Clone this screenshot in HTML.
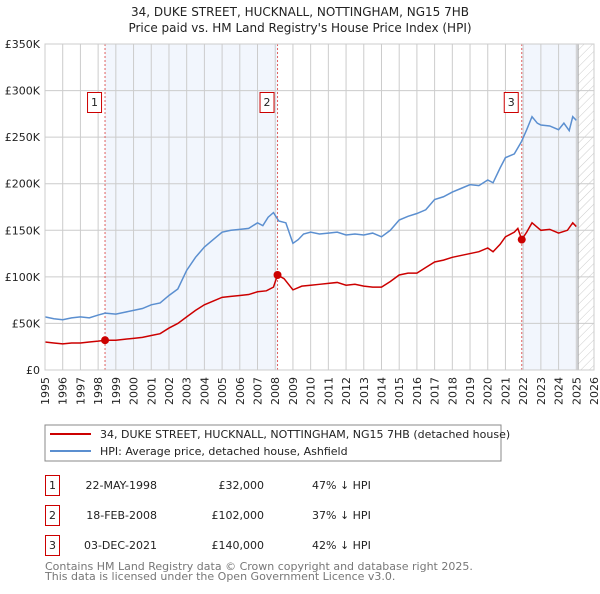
<!DOCTYPE html>
<html><head><meta charset="utf-8"><style>
body{margin:0;background:#fff;font-family:"DejaVu Sans","Liberation Sans",sans-serif;}
svg text{font-family:"DejaVu Sans","Liberation Sans",sans-serif;}
</style></head><body>
<svg id="c" width="600" height="590" xmlns="http://www.w3.org/2000/svg">
<defs><pattern id="hatch" width="6" height="6" patternUnits="userSpaceOnUse" patternTransform="rotate(45)"><line x1="0" y1="0" x2="0" y2="6" stroke="#ccc" stroke-width="1"/></pattern></defs>
<text x="300" y="16" text-anchor="middle" font-size="12" fill="#222">34, DUKE STREET, HUCKNALL, NOTTINGHAM, NG15 7HB</text>
<text x="300" y="32" text-anchor="middle" font-size="12" fill="#222">Price paid vs. HM Land Registry's House Price Index (HPI)</text>
<g id="plot"></g>
<rect x="45" y="425" width="456" height="36" fill="#fff" stroke="#888"/>
<line x1="50" y1="434" x2="91" y2="434" stroke="#cc0000" stroke-width="2"/>
<text x="100" y="438" font-size="11" fill="#222">34, DUKE STREET, HUCKNALL, NOTTINGHAM, NG15 7HB (detached house)</text>
<line x1="50" y1="451" x2="91" y2="451" stroke="#5b8fd0" stroke-width="2"/>
<text x="100" y="455" font-size="11" fill="#222">HPI: Average price, detached house, Ashfield</text>
<g font-size="11" fill="#222">
<rect x="45.5" y="475.5" width="14" height="20" fill="#fff" stroke="#cc0000"/><text x="52.5" y="489" text-anchor="middle">1</text>
<text x="157" y="489" text-anchor="end">22-MAY-1998</text><text x="264" y="489" text-anchor="end">£32,000</text><text x="312" y="489">47% ↓ HPI</text>
<rect x="45.5" y="505.5" width="14" height="20" fill="#fff" stroke="#cc0000"/><text x="52.5" y="519" text-anchor="middle">2</text>
<text x="157" y="519" text-anchor="end">18-FEB-2008</text><text x="264" y="519" text-anchor="end">£102,000</text><text x="312" y="519">37% ↓ HPI</text>
<rect x="45.5" y="535.5" width="14" height="20" fill="#fff" stroke="#cc0000"/><text x="52.5" y="549" text-anchor="middle">3</text>
<text x="157" y="549" text-anchor="end">03-DEC-2021</text><text x="264" y="549" text-anchor="end">£140,000</text><text x="312" y="549">42% ↓ HPI</text>
</g>
<text x="45" y="570" font-size="11" fill="#777">Contains HM Land Registry data © Crown copyright and database right 2025.</text>
<text x="45" y="580" font-size="11" fill="#777">This data is licensed under the Open Government Licence v3.0.</text>
</svg>
<script>
const yearTicks=[1995,1996,1997,1998,1999,2000,2001,2002,2003,2004,2005,2006,2007,2008,2009,2010,2011,2012,2013,2014,2015,2016,2017,2018,2019,2020,2021,2022,2023,2024,2025,2026];
const valueTicks=[0,50,100,150,200,250,300,350];
const valueLabels=["£0","£50K","£100K","£150K","£200K","£250K","£300K","£350K"];
const hpiYears=[1995,1995.5,1996,1996.5,1997,1997.5,1998,1998.4,1999,1999.5,2000,2000.5,2001,2001.5,2002,2002.5,2003,2003.5,2004,2004.5,2005,2005.5,2006,2006.5,2007,2007.3,2007.6,2007.9,2008.2,2008.6,2009,2009.3,2009.6,2010,2010.5,2011,2011.5,2012,2012.5,2013,2013.5,2014,2014.5,2015,2015.5,2016,2016.5,2017,2017.5,2018,2018.5,2019,2019.5,2020,2020.3,2020.7,2021,2021.5,2021.9,2022.2,2022.5,2022.8,2023,2023.5,2024,2024.3,2024.6,2024.8,2025];
const hpiValues=[57,55,54,56,57,56,59,61,60,62,64,66,70,72,80,87,107,121,132,140,148,150,151,152,158,155,164,169,160,158,136,140,146,148,146,147,148,145,146,145,147,143,150,161,165,168,172,183,186,191,195,199,198,204,201,217,228,232,245,258,272,265,263,262,258,265,257,272,268];
const saleYears=[1995,1995.5,1996,1996.5,1997,1997.5,1998,1998.4,1999,1999.5,2000,2000.5,2001,2001.5,2002,2002.5,2003,2003.5,2004,2004.5,2005,2005.5,2006,2006.5,2007,2007.5,2007.9,2008.13,2008.5,2009,2009.5,2010,2010.5,2011,2011.5,2012,2012.5,2013,2013.5,2014,2014.5,2015,2015.5,2016,2016.5,2017,2017.5,2018,2018.5,2019,2019.5,2020,2020.3,2020.7,2021,2021.5,2021.7,2021.92,2022.2,2022.5,2023,2023.5,2024,2024.5,2024.8,2025];
const saleValues=[30,29,28,29,29,30,31,32,32,33,34,35,37,39,45,50,57,64,70,74,78,79,80,81,84,85,89,102,98,86,90,91,92,93,94,91,92,90,89,89,95,102,104,104,110,116,118,121,123,125,127,131,127,135,143,148,152,140,148,158,150,151,147,150,158,154];
const saleDates=[1998.39,2008.13,2021.92];
const salePrices=[32,102,140];
const saleLabels=["1","2","3"];
const X0=45,X1=594,Y0=370,Y1=44;
const x=y=>X0+(y-1995)*(X1-X0)/31;
const yv=v=>Y0-v*(Y0-Y1)/350;
const g=document.getElementById('plot');
const NS='http://www.w3.org/2000/svg';
function mk(t,a){const e=document.createElementNS(NS,t);for(const k in a)e.setAttribute(k,a[k]);g.appendChild(e);return e;}
let e;
e=mk('rect',{x:x(saleDates[0]),y:Y1,width:x(saleDates[1])-x(saleDates[0]),height:Y0-Y1,fill:'#eef3fc',opacity:0.75});


e=mk('rect',{x:x(saleDates[2]),y:Y1,width:x(2025.1)-x(saleDates[2]),height:Y0-Y1,fill:'#eef3fc',opacity:0.75});


e=mk('rect',{x:x(2025.1),y:Y1,width:X1-x(2025.1),height:Y0-Y1,fill:'url(#hatch)'});


yearTicks.forEach(t=>{
 e=mk('line',{x1:x(t),x2:x(t),y1:Y1,y2:Y0,stroke:'#ccc','stroke-width':1});
 
 
 const tx=x(t)+4, ty=377;
 e=mk('text',{x:tx,y:ty,'text-anchor':'end','font-size':11,fill:'#222',transform:'rotate(-90 '+tx+' '+ty+')'});e.textContent=t;
 
 
});
valueTicks.forEach((v,i)=>{
 e=mk('line',{x1:X0,x2:X1,y1:yv(v),y2:yv(v),stroke:'#ccc','stroke-width':1});
 
 
 e=mk('text',{x:40,y:yv(v)+4,'text-anchor':'end','font-size':11,fill:'#222'});e.textContent=valueLabels[i];
 
 
});
e=mk('line',{x1:x(2025.1),x2:x(2025.1),y1:Y1,y2:Y0,stroke:'#999','stroke-width':1});


saleDates.forEach((d,i)=>{
 e=mk('line',{x1:x(d),x2:x(d),y1:Y1,y2:Y0,stroke:'#e06060','stroke-width':1,'stroke-dasharray':'2,2'});
 
 
});
e=mk('polyline',{points:hpiYears.map((t,i)=>x(t)+','+yv(hpiValues[i])).join(' '),fill:'none',stroke:'#5b8fd0','stroke-width':1.5});


e=mk('polyline',{points:saleYears.map((t,i)=>x(t)+','+yv(saleValues[i])).join(' '),fill:'none',stroke:'#cc0000','stroke-width':1.5});


saleDates.forEach((d,i)=>{
 e=mk('circle',{cx:x(d),cy:yv(salePrices[i]),r:4,fill:'#cc0000'});
 
 
 e=mk('rect',{x:x(d)-17.5,y:92.5,width:14,height:20,fill:'#fff',stroke:'#cc0000'});
 
 
 e=mk('text',{x:x(d)-10.5,y:106,'text-anchor':'middle','font-size':11,fill:'#222'});e.textContent=saleLabels[i];
 
 
});
e=mk('rect',{x:X0,y:Y1,width:X1-X0,height:Y0-Y1,fill:'none',stroke:'#ccc'});


</script>
</body></html>
